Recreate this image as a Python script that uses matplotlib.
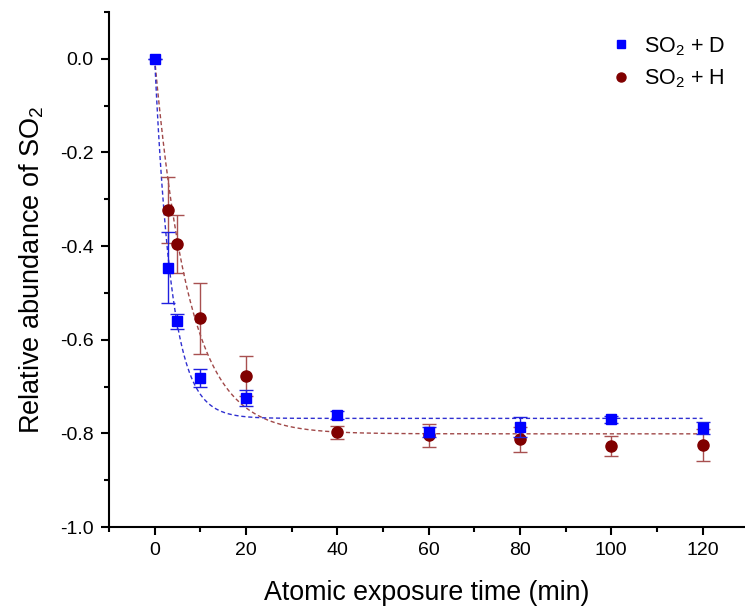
import numpy as np
import matplotlib
matplotlib.use("Agg")
import matplotlib.pyplot as plt
from matplotlib.ticker import MultipleLocator
from matplotlib.lines import Line2D

plt.rcParams['font.family'] = ['Liberation Sans', 'DejaVu Sans']
plt.rcParams['mathtext.default'] = 'regular'

# Data
t_D = [0, 3, 5, 10, 20, 40, 60, 80, 100, 120]
y_D = [0.0, -0.446, -0.561, -0.682, -0.725, -0.761, -0.797, -0.786, -0.770, -0.789]
e_D = [0.0, 0.076, 0.017, 0.020, 0.017, 0.008, 0.010, 0.022, 0.008, 0.013]

t_H = [3, 5, 10, 20, 40, 60, 80, 100, 120]
y_H = [-0.323, -0.395, -0.554, -0.678, -0.798, -0.804, -0.813, -0.827, -0.824]
e_H = [0.071, 0.062, 0.076, 0.043, 0.013, 0.025, 0.026, 0.021, 0.034]

# Exponential fit parameters (y = plateau * (1 - exp(-t/tau)))
plateau_D, tau_D = -0.768, 3.7
plateau_H, tau_H = -0.801, 7.5

xticks = [0, 20, 40, 60, 80, 100, 120]
yticks = [-1.0, -0.8, -0.6, -0.4, -0.2, 0.0]

fig = plt.figure(figsize=(7.45, 6.06), dpi=100)
ax = fig.add_axes([109/745, 79/606, (745-109)/745, (527-12)/606])

blue = '#0000ff'
red = '#800000'

tf = np.linspace(0, 120, 600)
ax.plot(tf, plateau_H * (1 - np.exp(-tf / tau_H)), ls=(0, (3, 2)), color='#a04848', lw=1.0, zorder=1)
ax.plot(tf, plateau_D * (1 - np.exp(-tf / tau_D)), ls=(0, (3, 2)), color='#3030d0', lw=1.0, zorder=1)

ax.errorbar(t_H, y_H, yerr=e_H, fmt='o', color=red, ecolor='#a85050', elinewidth=1.0,
            capsize=5, capthick=1.0, markersize=8, zorder=3)
ax.errorbar(t_D, y_D, yerr=e_D, fmt='s', color=blue, ecolor='#2020e0', elinewidth=1.0,
            capsize=5, capthick=1.0, markersize=6.5, zorder=4)

ax.set_xlim(-10, 129.3)
ax.set_ylim(-1.0, 0.1)
ax.set_xticks(xticks)
ax.set_yticks(yticks)
ax.set_yticklabels([f'{v:.1f}' for v in yticks])
ax.xaxis.set_minor_locator(MultipleLocator(10))
ax.yaxis.set_minor_locator(MultipleLocator(0.1))
for s in ['top', 'right']:
    ax.spines[s].set_visible(False)
for s in ['left', 'bottom']:
    ax.spines[s].set_linewidth(1.5)
ax.tick_params(which='major', direction='out', length=6, width=1.5, labelsize=14, pad=5)
ax.tick_params(which='minor', direction='out', length=3.5, width=1.5)

ax.set_xlabel('Atomic exposure time (min)', fontsize=19.3, labelpad=15)
ax.set_ylabel('Relative abundance of SO$_2$', fontsize=19.5, labelpad=10)

handles = [Line2D([], [], ls='none', marker='s', color=blue, markersize=5.5),
           Line2D([], [], ls='none', marker='o', color=red, markersize=6.5)]
ax.legend(handles, ['SO$_2$ + D', 'SO$_2$ + H'], loc='upper right', frameon=False,
          fontsize=15.5, handletextpad=0.6, handlelength=1.0, labelspacing=0.45,
          bbox_to_anchor=(1.0, 0.993))

fig.savefig('out.png', dpi=100)
